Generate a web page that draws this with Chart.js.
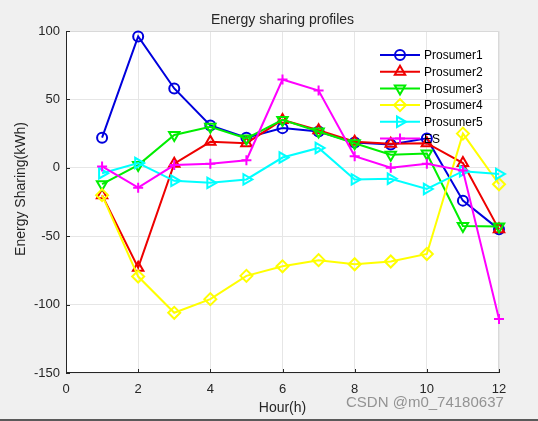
<!DOCTYPE html>
<html>
<head>
<meta charset="utf-8">
<script src="https://cdn.jsdelivr.net/npm/chart.js@4.4.1/dist/chart.umd.min.js"></script>
<style>
html,body{margin:0;padding:0;background:#f0f0f0;}
#wrap{width:538px;height:421px;position:relative;}
</style>
</head>
<body>
<div id="wrap"><canvas id="c" width="538" height="421"></canvas></div>
<script>
const hours = [1,2,3,4,5,6,7,8,9,10,11,12];
const prosumer1 = [22, 96, 58, 31, 22, 29, 26.5, 18.5, 17, 21.5, -24, -45];
const prosumer2 = [-20, -73, 3, 19, 18, 35, 27.5, 19, 17.5, 18, 3.5, -45];
const prosumer3 = [-12, 2, 24, 30, 21.5, 35, 26.5, 18, 9.5, 10.5, -42.5, -43];
const prosumer4 = [-20, -79.5, -106, -96, -79, -72, -67.5, -70.5, -68.5, -63, 25, -12];
const prosumer5 = [-4, 3.5, -9.5, -11, -8.5, 7.5, 14.5, -8.5, -8, -15.5, -2.5, -4.5];
const esValues = [1, -14.5, 2, 3, 5.5, 64.5, 56.5, 8.5, 0, 3, -2, -110.5];
const seriesNames = ['Prosumer1','Prosumer2','Prosumer3','Prosumer4','Prosumer5','ES'];
const xTicks = [0,2,4,6,8,10,12];
const yTicks = [-150,-100,-50,0,50,100];
const titleText = 'Energy sharing profiles';
const xTitle = 'Hour(h)';
const yTitle = 'Energy Sharing(kWh)';
const watermark = 'CSDN @m0_74180637';

const seriesValues = [prosumer1, prosumer2, prosumer3, prosumer4, prosumer5, esValues];
const colors = ['#0000dd','#ee0000','#00ee00','#ffff00','#00ffff','#ff00ff'];
const styles = [
  {pointStyle:'circle', rotation:0, radius:5},
  {pointStyle:'triangle', rotation:0, radius:6},
  {pointStyle:'triangle', rotation:180, radius:6},
  {pointStyle:'rectRot', rotation:0, radius:6},
  {pointStyle:'triangle', rotation:90, radius:6},
  {pointStyle:'cross', rotation:0, radius:5}
];

const datasets = seriesNames.map((name, i) => ({
  label: name,
  data: hours.map((h, k) => ({x: h, y: seriesValues[i][k]})),
  borderColor: colors[i],
  backgroundColor: 'rgba(0,0,0,0)',
  pointBorderColor: colors[i],
  pointBackgroundColor: 'rgba(0,0,0,0)',
  borderWidth: 2,
  pointBorderWidth: 2,
  pointStyle: styles[i].pointStyle,
  pointRotation: styles[i].rotation,
  pointRadius: styles[i].radius,
  pointHoverRadius: styles[i].radius,
  tension: 0,
  fill: false,
  clip: false,
  order: seriesNames.length - i
}));

const FONT = '"Liberation Sans", Arial, Helvetica, sans-serif';

const decor = {
  id: 'decor',
  beforeDraw(chart) {
    const ctx = chart.ctx;
    const a = chart.chartArea;
    ctx.save();
    ctx.fillStyle = '#f0f0f0';
    ctx.fillRect(0, 0, chart.width, chart.height);
    ctx.fillStyle = '#ffffff';
    ctx.fillRect(a.left, a.top, a.right - a.left, a.bottom - a.top);
    ctx.restore();
  },
  beforeDatasetsDraw(chart) {
    const ctx = chart.ctx;
    const a = chart.chartArea;
    ctx.save();
    ctx.strokeStyle = '#d9d9d9';
    ctx.lineWidth = 1;
    ctx.beginPath();
    ctx.moveTo(a.left, a.top + 0.5);
    ctx.lineTo(a.right - 0.5, a.top + 0.5);
    ctx.lineTo(a.right - 0.5, a.bottom);
    ctx.stroke();
    ctx.strokeStyle = '#262626';
    ctx.beginPath();
    ctx.moveTo(a.left + 0.5, a.top);
    ctx.lineTo(a.left + 0.5, a.bottom - 0.5);
    ctx.lineTo(a.right, a.bottom - 0.5);
    ctx.stroke();
    const xs = chart.scales.x, ys = chart.scales.y;
    ctx.beginPath();
    xTicks.forEach(v => { const px = Math.round(xs.getPixelForValue(v)) + 0.5; ctx.moveTo(px, a.bottom); ctx.lineTo(px, a.bottom - 4); });
    yTicks.forEach(v => { const py = Math.round(ys.getPixelForValue(v)) + 0.5; ctx.moveTo(a.left, py); ctx.lineTo(a.left + 4, py); });
    ctx.stroke();
    ctx.restore();
  },
  afterDatasetsDraw(chart) {
    const ctx = chart.ctx;
    const a = chart.chartArea;
    ctx.save();
    // legend
    ctx.font = '12px ' + FONT;
    ctx.textBaseline = 'middle';
    ctx.textAlign = 'left';
    chart.data.datasets.forEach((ds, i) => {
      const y = 55 + i * 16.7;
      ctx.strokeStyle = ds.borderColor;
      ctx.lineWidth = 2;
      ctx.beginPath();
      ctx.moveTo(380, y);
      ctx.lineTo(420, y);
      ctx.stroke();
      ctx.fillStyle = 'rgba(0,0,0,0)';
      ctx.strokeStyle = ds.borderColor;
      Chart.helpers.drawPoint(ctx, {
        pointStyle: ds.pointStyle,
        rotation: ds.pointRotation,
        radius: ds.pointRadius,
        borderWidth: 2
      }, 400, y);
      ctx.fillStyle = '#000000';
      ctx.fillText(ds.label, 424, y + 1);
    });

    // titles
    ctx.fillStyle = '#262626';
    ctx.textAlign = 'center';
    ctx.font = '14px ' + FONT;
    ctx.fillText(titleText, (a.left + a.right) / 2, 20);
    ctx.fillText(xTitle, (a.left + a.right) / 2, 408);
    ctx.save();
    ctx.translate(21, 189);
    ctx.rotate(-Math.PI / 2);
    ctx.fillText(yTitle, 0, 0);
    ctx.restore();

    // watermark
    ctx.font = '15px ' + FONT;
    ctx.fillStyle = 'rgba(130,130,130,0.85)';
    ctx.textAlign = 'left';
    ctx.fillText(watermark, 346, 403);

    // window bottom border
    ctx.strokeStyle = '#5a5a5a';
    ctx.lineWidth = 2;
    ctx.beginPath();
    ctx.moveTo(0, 420);
    ctx.lineTo(538, 420);
    ctx.stroke();
    ctx.restore();
  }
};

new Chart(document.getElementById('c'), {
  type: 'line',
  data: { datasets },
  options: {
    responsive: false,
    animation: false,
    devicePixelRatio: 1,
    layout: { padding: { top: 31, right: 39, left: 0, bottom: 0 } },
    plugins: {
      legend: { display: false },
      title: { display: false },
      tooltip: { enabled: false }
    },
    scales: {
      x: {
        type: 'linear',
        min: 0, max: 12,
        afterFit(s) { s.height = 48; },
        afterBuildTicks(s) { s.ticks = xTicks.map(v => ({value: v})); },
        grid: { color: '#e6e6e6', drawTicks: false, lineWidth: 1 },
        border: { display: false },
        ticks: { padding: 9, color: '#262626', font: { family: FONT, size: 13 }, maxRotation: 0 }
      },
      y: {
        type: 'linear',
        min: -150, max: 100,
        afterFit(s) { s.width = 66; },
        afterBuildTicks(s) { s.ticks = yTicks.map(v => ({value: v})); },
        grid: { color: '#e6e6e6', drawTicks: false, lineWidth: 1 },
        border: { display: false },
        ticks: { padding: 6, color: '#262626', font: { family: FONT, size: 13 } }
      }
    }
  },
  plugins: [decor]
});
</script>
</body>
</html>
